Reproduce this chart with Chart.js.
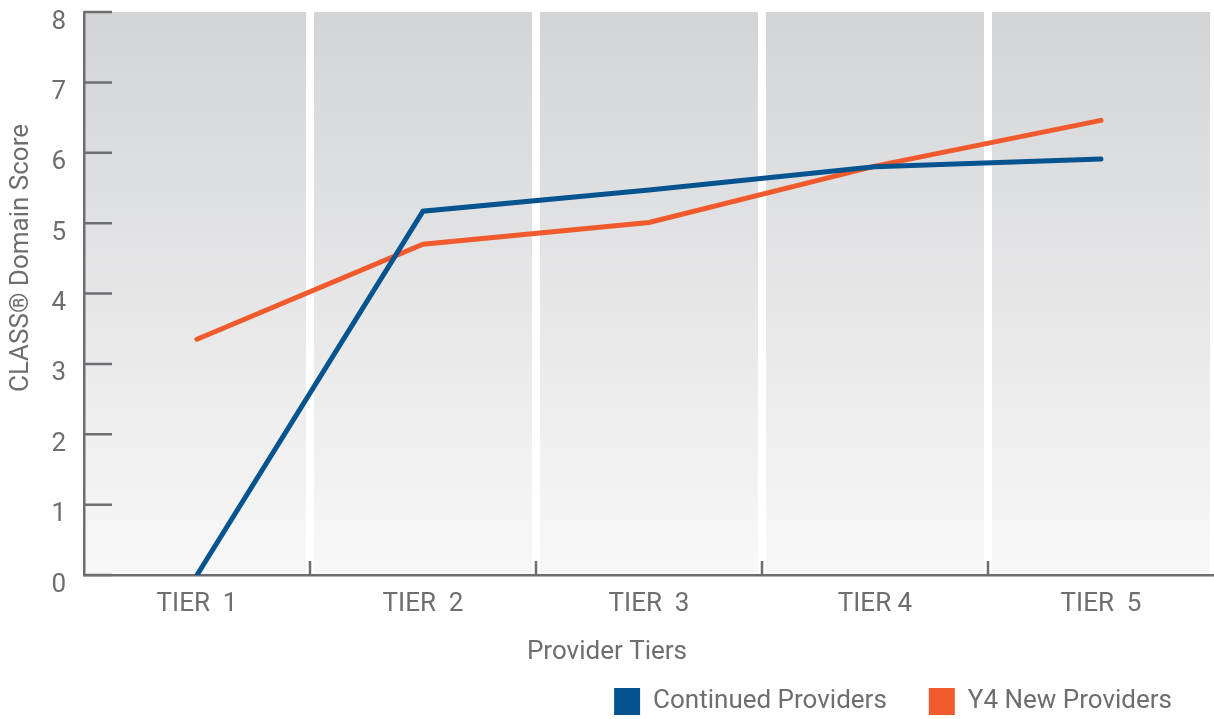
<!DOCTYPE html>
<html>
<head>
<meta charset="utf-8">
<script src="https://cdn.jsdelivr.net/npm/chart.js@4.4.1/dist/chart.umd.min.js"></script>
<style>
  html, body { margin: 0; padding: 0; background: #ffffff; }
  #wrap { width: 1214px; height: 719px; }
</style>
</head>
<body>
<div id="wrap"><canvas id="chart" width="1214" height="719"></canvas></div>
<script>
// data
const tiers = ['TIER  1', 'TIER  2', 'TIER  3', 'TIER 4', 'TIER  5'];
const continuedProviders = [0, 5.17, 5.47, 5.8, 5.91];
const newProviders = [3.35, 4.7, 5.01, 5.81, 6.46];
const yTicks = [0, 1, 2, 3, 4, 5, 6, 7, 8];

const BLUE = '#06548f';
const ORANGE = '#f15a2c';
const GREY = '#6d6e71';
const FONT = 'Roboto, "Noto Sans", sans-serif';

// gradient panel behind the plot
const panelBg = {
  id: 'panelBg',
  beforeDraw(chart) {
    const { ctx, chartArea: a } = chart;
    const g = ctx.createLinearGradient(0, a.top, 0, a.bottom);
    g.addColorStop(0, '#d3d4d6');
    g.addColorStop(1, '#f8f8f8');
    ctx.save();
    ctx.fillStyle = g;
    ctx.fillRect(a.left, a.top, a.right - a.left, a.bottom - a.top);
    ctx.restore();
  }
};

// inward tick marks + axis titles
const axisExtras = {
  id: 'axisExtras',
  afterDraw(chart) {
    const { ctx, chartArea: a, scales } = chart;
    ctx.save();
    ctx.strokeStyle = GREY;
    ctx.lineWidth = 2.5;
    ctx.beginPath();
    yTicks.forEach(v => {
      const y = scales.y.getPixelForValue(v);
      ctx.moveTo(a.left, y);
      ctx.lineTo(a.left + 28, y);
    });
    const xs = scales.x;
    for (let i = 1; i < tiers.length; i++) {
      const x = (xs.getPixelForValue(i - 1) + xs.getPixelForValue(i)) / 2;
      ctx.moveTo(x, a.bottom);
      ctx.lineTo(x, a.bottom - 14);
    }
    ctx.stroke();

    ctx.fillStyle = GREY;
    ctx.font = '26px ' + FONT;
    ctx.textAlign = 'center';
    ctx.textBaseline = 'middle';
    ctx.fillText('Provider Tiers', chart.width / 2, a.bottom + 77);

    ctx.translate(21, a.top + 246);
    ctx.rotate(-Math.PI / 2);
    ctx.fillText('CLASS\u00AE Domain Score', 0, 0);
    ctx.restore();
  }
};

new Chart(document.getElementById('chart').getContext('2d'), {
  type: 'line',
  data: {
    labels: tiers,
    datasets: [
      {
        label: 'Continued Providers',
        data: continuedProviders,
        borderColor: BLUE,
        backgroundColor: BLUE,
        borderWidth: 5,
        pointRadius: 0,
        borderCapStyle: 'round',
        tension: 0
      },
      {
        label: 'Y4 New Providers',
        data: newProviders,
        borderColor: ORANGE,
        backgroundColor: ORANGE,
        borderWidth: 5,
        pointRadius: 0,
        borderCapStyle: 'round',
        tension: 0
      }
    ]
  },
  options: {
    responsive: false,
    animation: false,
    layout: { padding: { left: 0, right: 0, top: 12, bottom: 0 } },
    scales: {
      x: {
        offset: true,
        grid: {
          offset: true,
          drawTicks: false,
          lineWidth: 8,
          color: ctx => (ctx.index === 0 ? 'rgba(0,0,0,0)' : '#ffffff')
        },
        border: { color: GREY, width: 2.5 },
        ticks: { color: GREY, font: { family: FONT, size: 26 }, padding: 14 },
        afterFit(scale) {
          scale.height = 71;
          scale.paddingLeft = 0;
          scale.paddingRight = 0;
        }
      },
      y: {
        min: 0,
        max: 8,
        afterBuildTicks(scale) { scale.ticks = yTicks.map(v => ({ value: v })); },
        grid: { display: false },
        border: { color: GREY, width: 2.5 },
        ticks: { color: GREY, font: { family: FONT, size: 26 }, padding: 10, labelOffset: 10 },
        afterFit(scale) {
          scale.width = 84;
          scale.paddingTop = 0;
          scale.paddingBottom = 0;
        }
      }
    },
    plugins: {
      tooltip: { enabled: false },
      legend: {
        position: 'bottom',
        align: 'end',
        maxHeight: 73,
        labels: {
          color: GREY,
          font: { family: FONT, size: 26 },
          boxWidth: 26,
          boxHeight: 27,
          padding: 42,
          generateLabels(chart) {
            return chart.data.datasets.map((ds, i) => ({
              text: ds.label,
              fillStyle: ds.borderColor,
              strokeStyle: ds.borderColor,
              lineWidth: 0,
              fontColor: GREY,
              datasetIndex: i
            }));
          }
        }
      }
    }
  },
  plugins: [panelBg, axisExtras]
});
</script>
</body>
</html>
